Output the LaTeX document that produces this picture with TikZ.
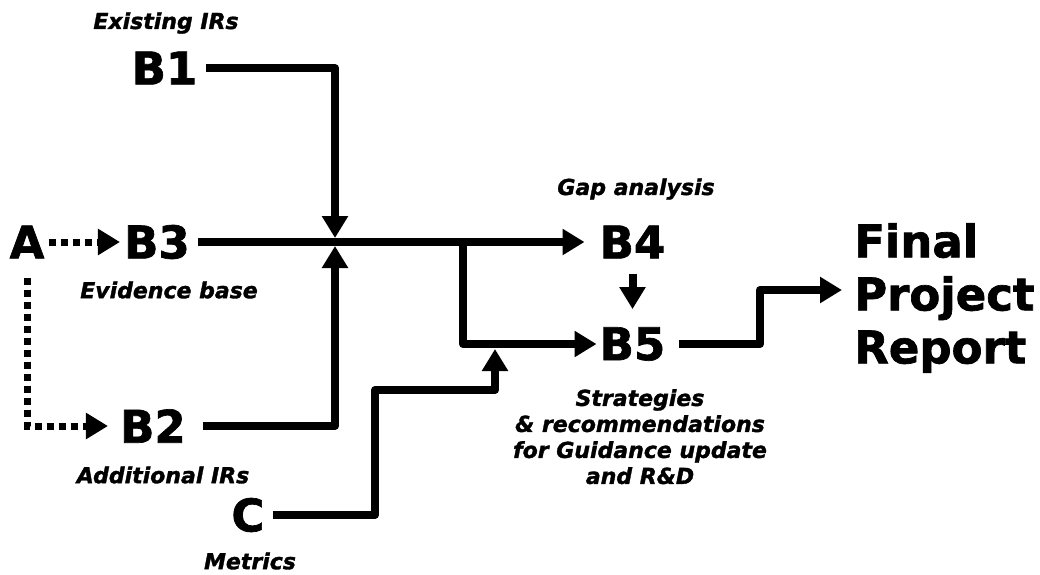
\documentclass[tikz,border=0pt]{standalone}
\usepackage{fontspec}
\setmainfont{DejaVu Sans}[BoldFeatures={FakeBold=1.5},BoldItalicFeatures={FakeBold=1.5}]
\usetikzlibrary{arrows.meta,calc}
\begin{document}
\begin{tikzpicture}[x=1pt,y=-1pt,
  big/.style={font=\fontsize{45}{53}\selectfont\bfseries, inner sep=0pt},
  note/.style={font=\fontsize{22}{26}\selectfont\bfseries\itshape, inner sep=0pt},
  tip/.style={-{Triangle[length=22pt,width=25pt]}},
  conn/.style={line width=8pt, line join=round},
  dots/.style={line width=7pt, dash pattern=on 7pt off 5pt},
]
\useasboundingbox[fill=white] (0,0) rectangle (1040,574);

% main labels
\node[big] (A)  at (27,242)    {A};
\node[big] (B1) at (164.5,68)  {B1};
\node[big] (B3) at (157,242)   {B3};
\node[big] (B2) at (153,426)   {B2};
\node[big] (C)  at (248,515)   {C};
\node[big] (B4) at (632.5,242) {B4};
\node[big] (B5) at (632.5,344) {B5};
\node[big, anchor=north west, align=left] (fpr) at (854,223) {Final\\Project\\Report};

% captions
\node[note] (l1) at (166,23)  {Existing IRs};
\node[note] (l3) at (169,290) {Evidence base};
\node[note] (l2) at (163,475) {Additional IRs};
\node[note] (lc) at (250,561) {Metrics};
\node[note] (l4) at (636,189) {Gap analysis};
\node[note, align=center, anchor=north] (l5) at (640,389)
  {Strategies\\\& recommendations\\for Guidance update\\and R\&D};

% routing points
\coordinate (j)  at (335,242);
\coordinate (br) at (463,242);
\coordinate (c1) at (375,390);
\coordinate (cj) at (495,345);
\coordinate (k1) at (760,290);

% solid connectors
\draw[conn,tip] ($(B1.east)+(8,0)$) -| ($(j)+(0,-4)$);
\draw[conn,tip] ($(B2.east)+(17,0)$) -| ($(j)+(0,4)$);
\draw[conn,tip] ($(B3.east)+(8,0)$) -- ($(B4.west)+(-15,0)$);
\draw[conn,tip] (br) |- ($(B5.west)+(-3,0)$);
\draw[conn,tip] ($(C.east)+(8,0)$) -| (c1) -| ($(cj)+(0,4)$);
\draw[conn,tip] ($(B4.south)+(0,15)$) -- ($(B5.north)+(0,-18)$);
\draw[conn,tip] ($(B5.east)+(13,0)$) -| (k1) -- ($(k1 -| fpr.west)+(-12,0)$);

% dotted connectors from A
\draw[dots,tip] ($(A.east)+(4,0)$) -- ($(B3.west)+(-4,0)$);
\draw[dots,tip] ($(A.south)+(0,19)$) |- ($(B2.west)+(-12,0)$);
\end{tikzpicture}
\end{document}
